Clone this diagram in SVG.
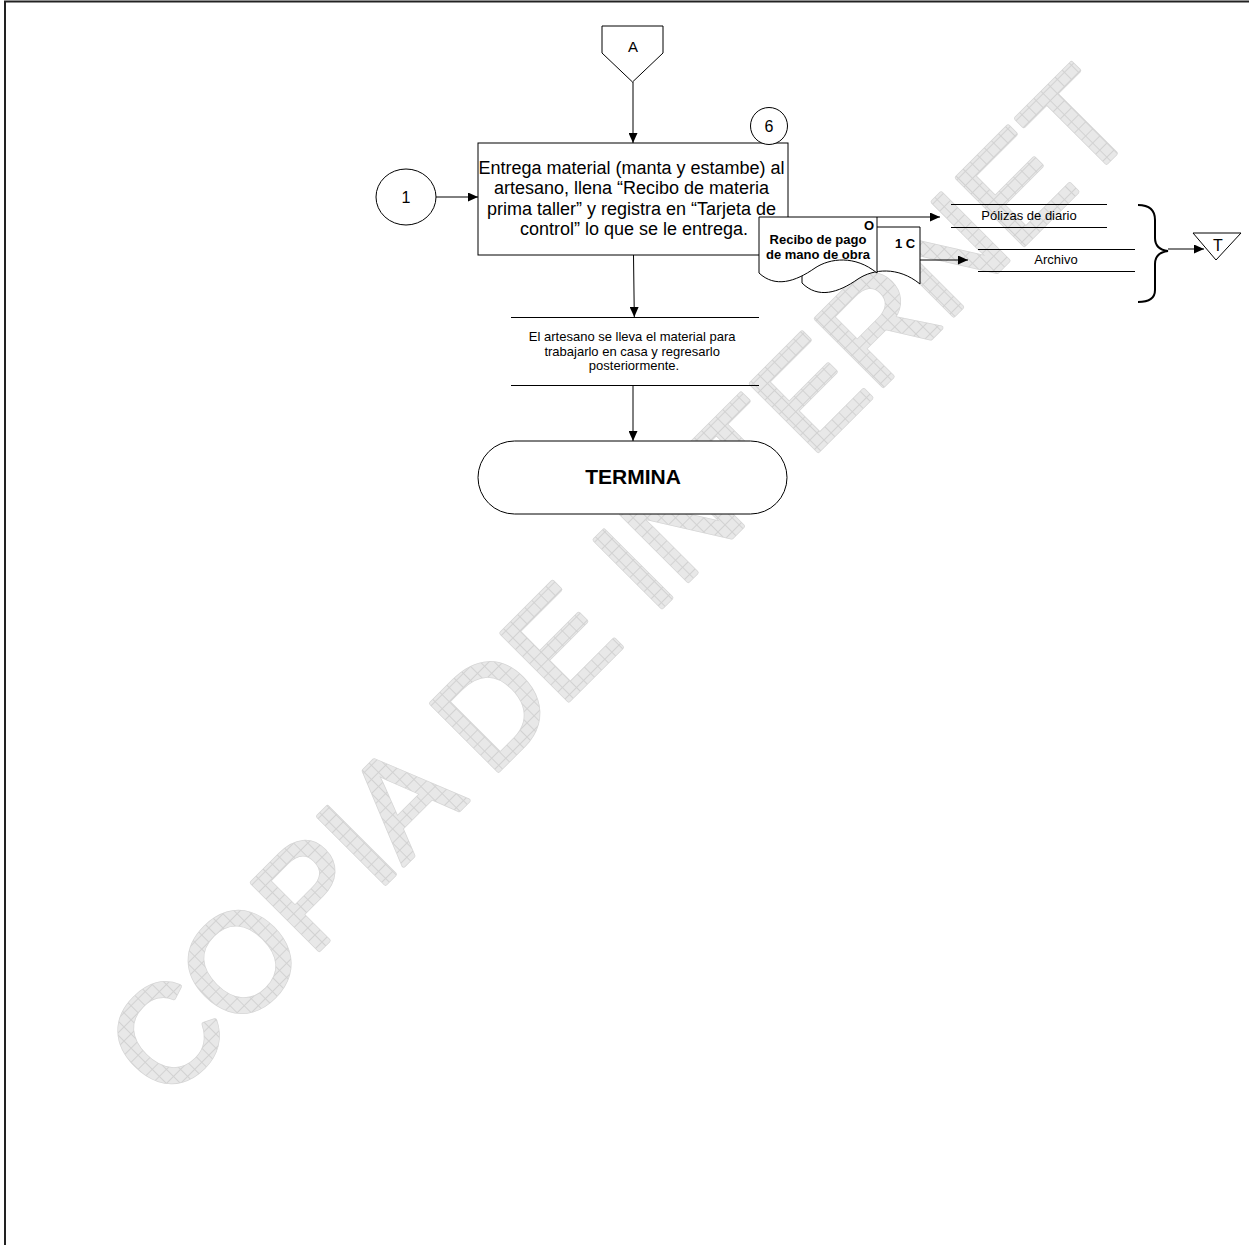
<svg xmlns="http://www.w3.org/2000/svg" width="1249" height="1245" viewBox="0 0 1249 1245">
<style>
  .ln{fill:none;stroke:#000;stroke-width:1}
  .sh{fill:#fff;stroke:#000;stroke-width:1}
  .t{font-family:"Liberation Sans",Arial,sans-serif;fill:#000;text-anchor:middle}
  .b{font-weight:bold}
  .arr{fill:none;stroke:#000;stroke-width:1;marker-end:url(#ah)}
  .wm{font-family:"Liberation Sans",Arial,sans-serif;font-size:138px;stroke-linejoin:round;stroke-linecap:round}
</style>
<defs>
  <marker id="ah" markerUnits="userSpaceOnUse" markerWidth="10" markerHeight="9" refX="10" refY="4.5" orient="auto">
    <path d="M0,0 L10,4.5 L0,9 Z" fill="#000"/>
  </marker>
  <pattern id="hatch" patternUnits="userSpaceOnUse" width="10" height="10">
    <rect width="10" height="10" fill="#e8e8e8"/>
    <path d="M0,0.5 H10 M0.5,0 V10" stroke="#d2d2d2" stroke-width="1"/>
  </pattern>
</defs>
<rect width="1249" height="1245" fill="#fff"/>
<!-- page border -->
<path d="M5,1245 V1.5 H1249" fill="none" stroke="#222" stroke-width="2"/>
<!-- watermark -->
<g id="watermark" transform="rotate(-45 165 1104)">
  <text class="wm" x="165" y="1104" fill="#d6d6d6" stroke="#d6d6d6" stroke-width="4.5">COPIA DE INTERNET</text>
  <text class="wm" x="165" y="1104" fill="url(#hatch)" stroke="url(#hatch)" stroke-width="3">COPIA DE INTERNET</text>
</g>
<g id="connectors">
  <path class="arr" d="M633,82 V143"/>
  <path class="arr" d="M436,197 H478"/>
  <path class="arr" d="M633.5,255 L634.3,317"/>
  <path class="arr" d="M633,385 V441"/>
  <path class="arr" d="M877,217 H940"/>
  <path class="arr" d="M920,260 H968"/>
  <path class="arr" d="M1168,249 H1204"/>
</g>
<g id="offpage-A">
  <path class="sh" d="M602,26 H663 V53 L632.5,82 L602,53 Z"/>
  <text class="t" x="633" y="52" font-size="15">A</text>
</g>
<g id="process">
  <rect class="sh" x="478" y="143" width="310" height="112"/>
  <text class="t" font-size="18">
    <tspan x="634" y="173.5">Entrega material (manta y estambe) al</tspan>
    <tspan x="634" y="194">artesano, llena “Recibo de materia</tspan>
    <tspan x="634" y="214.5">prima taller” y registra en “Tarjeta de</tspan>
    <tspan x="634" y="235">control” lo que se le entrega.</tspan>
  </text>
</g>
<g id="step-6">
  <circle class="sh" cx="769" cy="126" r="18.5"/>
  <text class="t" x="769" y="132" font-size="16">6</text>
</g>
<g id="connector-1">
  <ellipse class="sh" cx="406" cy="197" rx="30" ry="28"/>
  <text class="t" x="406" y="203" font-size="16">1</text>
</g>
<g id="document">
  <path class="sh" d="M802,227 H920 V284 C898,266 873,269 858,279 C838,293 818,299 802,283 Z"/>
  <path class="sh" d="M759,217 H877 V273 C855,255 830,258 815,268 C795,282 775,288 759,273 Z"/>
  <text class="t b" x="869" y="230" font-size="13">O</text>
  <text class="t b" x="818" y="244" font-size="13">Recibo de pago</text>
  <text class="t b" x="818" y="259" font-size="13">de mano de obra</text>
  <text class="t b" x="905" y="248" font-size="13">1 C</text>
</g>
<g id="polizas">
  <path class="ln" d="M951,204.5 H1107 M951,227.5 H1107"/>
  <text class="t" x="1029" y="219.5" font-size="13">Pólizas de diario</text>
</g>
<g id="archivo">
  <path class="ln" d="M978,249.5 H1135 M978,271.5 H1135"/>
  <text class="t" x="1056" y="264" font-size="13">Archivo</text>
</g>
<g id="brace">
  <path d="M1138,205 C1150,205 1155,210 1155,220 V238 C1155,246 1160,250 1168,251 C1160,252 1155,256 1155,264 V290 C1155,298 1150,302 1138,302" fill="none" stroke="#000" stroke-width="2"/>
</g>
<g id="terminal-T">
  <path class="sh" d="M1193,233 H1241 L1216,260 Z"/>
  <text class="t" x="1218" y="251" font-size="16">T</text>
</g>
<g id="annotation">
  <path class="ln" d="M511,317.5 H759 M511,385.5 H759"/>
  <text class="t" font-size="13">
    <tspan x="634" y="341">El artesano se lleva el material para</tspan>
    <tspan x="634" y="355.5">trabajarlo en casa y regresarlo</tspan>
    <tspan x="634" y="370">posteriormente.</tspan>
  </text>
</g>
<g id="termina">
  <rect class="sh" x="478" y="441" width="309" height="73" rx="36.5" ry="36.5"/>
  <text class="t b" x="633" y="484" font-size="21">TERMINA</text>
</g>
</svg>
